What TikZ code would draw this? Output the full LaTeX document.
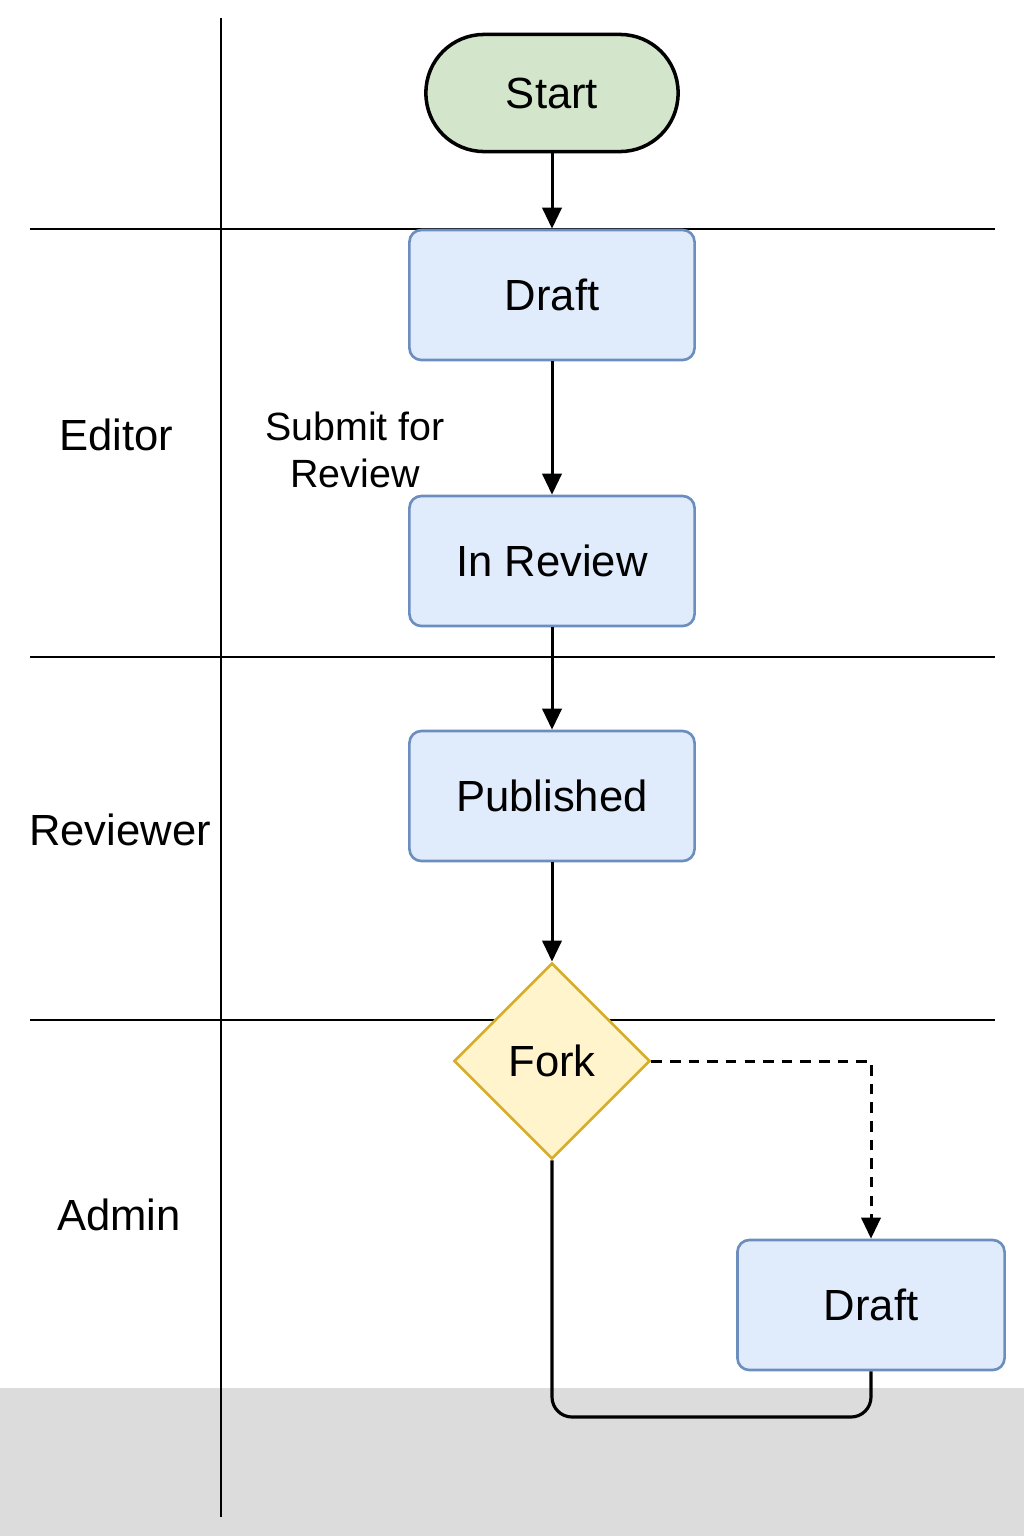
\documentclass[tikz,border=0pt]{standalone}
\usepackage{fontspec}
\setmainfont{Liberation Sans}
\usetikzlibrary{arrows.meta,shapes.geometric}

\definecolor{startgreen}{HTML}{D3E6CB}
\definecolor{stepblue}{HTML}{E0ECFC}
\definecolor{stepedge}{HTML}{6C8EBF}
\definecolor{forkyellow}{HTML}{FFF4CC}
\definecolor{forkedge}{HTML}{D6AE2A}
\definecolor{footgray}{HTML}{DCDCDC}

\tikzset{
  lane/.style={line width=0.8pt, black},
  lanelabel/.style={font=\fontsize{12.4}{15}\selectfont},
  startbox/.style={draw=black, line width=1pt, fill=startgreen, rounded corners=0.58cm,
    minimum width=2.52cm, minimum height=1.17cm, font=\fontsize{12.4}{15}\selectfont},
  statebox/.style={draw=stepedge, line width=0.75pt, fill=stepblue, rounded corners=0.12cm,
    minimum width=2.85cm, minimum height=1.3cm, font=\fontsize{12.4}{15}\selectfont},
  forkbox/.style={diamond, draw=forkedge, line width=0.75pt, fill=forkyellow, aspect=1,
    minimum width=1.96cm, minimum height=1.96cm, inner sep=0pt, font=\fontsize{12.4}{15}\selectfont},
  flow/.style={line width=0.85pt, -{Stealth[length=6pt,width=5.5pt,inset=0pt]}},
}

\begin{document}
\begin{tikzpicture}[x=0.01cm,y=-0.01cm]
\useasboundingbox (0,0) rectangle (1024,1536);
% grey strip at the bottom
\fill[footgray] (0,1388) rectangle (1024,1536);
% swim lanes
\draw[lane] (221,18) -- (221,1517);
\draw[lane] (30,229) -- (995,229);
\draw[lane] (30,657) -- (995,657);
\draw[lane] (30,1020) -- (995,1020);
\node[lanelabel] (editor) at (116,435) {Editor};
\node[lanelabel] (reviewer) at (120,830) {Reviewer};
\node[lanelabel] (admin) at (119,1215) {Admin};
% states
\node[startbox] (start) at (552,93) {Start};
\node[statebox] (draft) at (552,295) {Draft};
\node[statebox] (review) at (552,561) {In Review};
\node[statebox] (published) at (552,796) {Published};
\node[forkbox] (fork) at (552,1061) {Fork};
\node[statebox, minimum width=2.67cm] (draftb) at (871,1305) {Draft};
\node[align=center, font=\fontsize{11.2}{13.5}\selectfont] (submit) at (355,450) {Submit for\\Review};
\coordinate (loop) at (700,1417);
% connectors
\draw[flow] (start) -- (draft);
\draw[flow] (draft) -- (review);
\draw[flow] (review) -- (published);
\draw[flow] (published) -- (fork);
\draw[flow, dash pattern=on 3pt off 2.3pt] (fork.east) -| (draftb.north);
\draw[line width=0.9pt, rounded corners=0.2cm] (fork.south) |- (loop) -| (draftb.south);
\end{tikzpicture}
\end{document}
